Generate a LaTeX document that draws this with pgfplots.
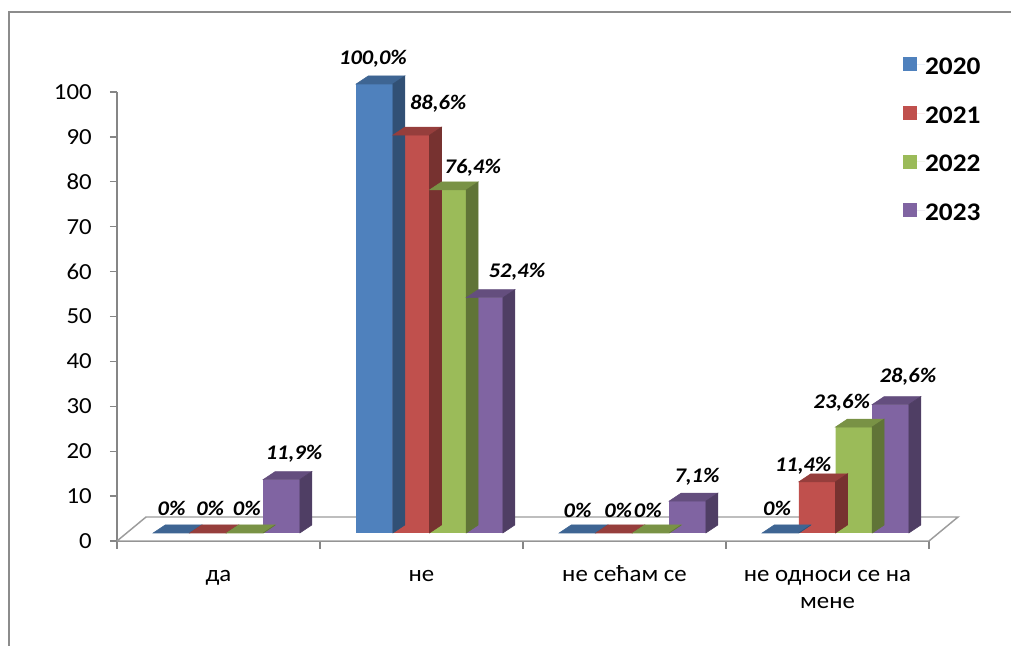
\documentclass[border=0pt]{standalone}
\usepackage{pgfplots}
\pgfplotsset{compat=1.18}
\usepackage{pgfplotstable}
\usepackage{fontspec}
\setmainfont[FakeStretch=1.08]{Carlito}

\definecolor{c20}{HTML}{4F81BD}
\definecolor{c21}{HTML}{C0504D}
\definecolor{c22}{HTML}{9BBB59}
\definecolor{c23}{HTML}{8064A2}
\definecolor{axgray}{HTML}{868686}
\definecolor{floorgray}{HTML}{9C9C9C}
\definecolor{framegray}{HTML}{8C8C8C}

\newcommand\tickfont{\fontsize{17.25pt}{20.25pt}\selectfont}
\newcommand\legfont{\fontsize{19pt}{22pt}\selectfont\bfseries}
\newcommand\lblfont{\fontsize{15.6pt}{18pt}\selectfont\bfseries\itshape}

% x = category, y = value (%)
\pgfplotstableread{
x y
0 0
1 100.0
2 0
3 0
}\dataA
\pgfplotstableread{
x y
0 0
1 88.6
2 0
3 11.4
}\dataB
\pgfplotstableread{
x y
0 0
1 76.4
2 0
3 23.6
}\dataC
\pgfplotstableread{
x y
0 11.9
1 52.4
2 7.1
3 28.6
}\dataD

\pgfplotsset{
  mybar/.style 2 args={ybar, bar width=27.5pt, bar shift=#2, yshift=6pt,
    draw=none, fill=#1,
    legend image code/.code={\fill[#1] (0pt,-9.2pt) rectangle (10.5pt,1.3pt);
      \path (0pt,-4pt) -- (16.5pt,-4pt);}},
  % #1 colour, #2 x shift, #3 label x offsets (px), #4 label heights above bar (px)
  face3d/.style n args={4}{forget plot, only marks, scatter, mark=text, text mark={},
    mark options={draw=none,fill=none},
    visualization depends on={rawy \as \rawval},
    visualization depends on={\coordindex \as \ci},
    scatter/@pre marker code/.code={%
      \pgfmathsetmacro\hh{\rawval*3.3675}%
      \pgfmathtruncatemacro\isz{abs(\rawval)<0.001 ? 1 : 0}%
      \pgfmathtruncatemacro\cii{round(\ci)}%
      \pgfmathsetmacro\ldx{{#3}[\cii]*0.75}%
      \pgfmathsetmacro\lup{{#4}[\cii]*0.75+6}%
      \fill[#1!78!black] ({#2-13.75pt},6pt) -- ++(9pt,6pt) -- ++(27.5pt,0pt) -- ++(-9pt,-6pt) -- cycle;
      \fill[#1!62!black] ({#2+13.75pt},6pt) -- ++(9pt,6pt) -- ++(0pt,-\hh pt) -- ++(-9pt,-6pt) -- cycle;
      \node[font=\lblfont, inner sep=0pt, text=black] at ({#2+\ldx pt},\lup pt)
        {\ifnum\isz=1 0\%\else\pgfmathprintnumber[fixed,fixed zerofill,precision=1,use comma,assume math mode=true]{\rawval}\%\fi};
      },
    scatter/@post marker code/.code={},
  },
}

\begin{document}
\begin{tikzpicture}
\path[use as bounding box] (0,0) rectangle (758.25pt,484.5pt);
\draw[line width=1.5pt, color=framegray] (6.75pt,-2pt) -- (6.75pt,475.5pt) -- (762pt,475.5pt);
\begin{axis}[
  at={(87.75pt,78.75pt)}, anchor=south west,
  scale only axis, width=609pt, height=336.75pt,
  xmin=-0.5, xmax=3.5, ymin=0, ymax=100,
  clip=false,
  axis lines*=left,
  axis line style={draw=axgray, line width=1pt},
  tick align=outside,
  xtick={0,1,2,3},
  xticklabels={да, не, не сећам се, {\begin{tabular}[t]{@{}c@{}}не односи се на\\мене\end{tabular}}},
  xticklabel style={font=\tickfont, anchor=base, yshift=-25pt},
  major x tick style={draw=none},
  minor xtick={-0.5,0.5,1.5,2.5,3.5},
  ytick={0,10,...,100},
  tick style={draw=axgray, line width=1pt},
  major tick length=5.25pt, minor tick length=6pt,
  yticklabel style={font=\tickfont, anchor=east, inner sep=0pt, xshift=-13.5pt},
  /pgf/number format/assume math mode=true,
  legend style={at={(0.968,1.077)}, anchor=north west, draw=none, fill=none,
    inner sep=0pt, outer sep=0pt, font=\legfont, row sep=22.2pt,
    nodes={inner sep=0pt}},
  legend cell align=left,
]
\addplot[draw=floorgray, fill=white, line width=1.1pt, forget plot]
  coordinates {(-0.5,0) (-0.357,5.345) (3.643,5.345) (3.5,0) (-0.5,0)};

\addplot[mybar={c20}{-35.25pt}] table[x=x,y=y] {\dataA};
\addlegendentry{2020}
\addplot[face3d={c20}{-35.25pt}{0,-1.5,0,-3.5}{24.5,25,23,25}] table[x=x,y=y] {\dataA};

\addplot[mybar={c21}{-7.75pt}] table[x=x,y=y] {\dataB};
\addlegendentry{2021}
\addplot[face3d={c21}{-7.75pt}{2,27,4,-14}{24.5,31,23,16}] table[x=x,y=y] {\dataB};

\addplot[mybar={c22}{19.75pt}] table[x=x,y=y] {\dataC};
\addlegendentry{2022}
\addplot[face3d={c22}{19.75pt}{2,25,-3,-12}{24.5,22,23,24}] table[x=x,y=y] {\dataC};

\addplot[mybar={c23}{47.25pt}] table[x=x,y=y] {\dataD};
\addlegendentry{2023}
\addplot[face3d={c23}{47.25pt}{12.5,32.5,9.5,17.5}{25.7,26,24,28}] table[x=x,y=y] {\dataD};
\end{axis}
\end{tikzpicture}
\end{document}
